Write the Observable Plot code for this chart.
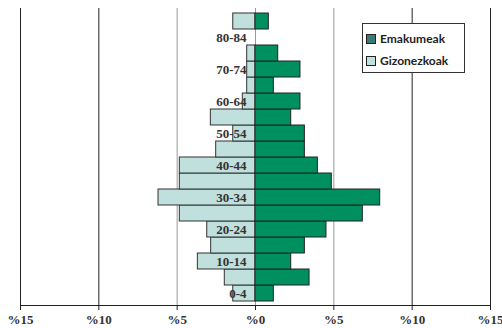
<!DOCTYPE html>
<html>
<head>
<meta charset="utf-8">
<script src="https://cdn.jsdelivr.net/npm/d3@7"></script>
<script src="https://cdn.jsdelivr.net/npm/@observablehq/plot@0.6"></script>
<style>
  html, body { margin: 0; padding: 0; background: #fff; }
  #wrap { position: relative; width: 502px; height: 328px; }
  #legend {
    position: absolute; left: 362px; top: 23px; width: 101px; height: 48px;
    background: #fff; border: 1px solid #333;
    font: bold 12px "Lato", "Open Sans", sans-serif; color: #222;
  }
  #legend .row { position: absolute; left: 3px; display: flex; align-items: center; }
  #legend .sw { width: 8px; height: 8px; border: 1px solid #222; margin-right: 4px; }
</style>
</head>
<body>
<div id="wrap"></div>
<script>
const ageGroups = ["0-4","5-9","10-14","15-19","20-24","25-29","30-34","35-39","40-44","45-49","50-54","55-59","60-64","65-69","70-74","75-79","80-84","85+"];
const gizonezkoak = [1.42,1.96,3.68,2.83,3.08,4.83,6.19,4.83,4.83,2.51,1.42,2.85,0.81,0.53,0.53,0.53,0,1.42];
const emakumeak   = [1.17,3.45,2.28,3.15,4.53,6.85,7.96,4.87,3.98,3.15,3.15,2.28,2.87,1.17,2.87,1.45,0,0.85];
const shownLabels = ["0-4","10-14","20-24","30-34","40-44","50-54","60-64","70-74","80-84"];
const xTicks = [-15,-10,-5,0,5,10,15];
const seriesNames = ["Emakumeak","Gizonezkoak"];
const colorWomen = "#009060";
const colorMen = "#bfe0dc";
const legendWomen = "#3a7a78";

const men = ageGroups.map((a,i) => ({age:a, v:gizonezkoak[i]}));
const women = ageGroups.map((a,i) => ({age:a, v:emakumeak[i]}));
const labels = shownLabels.map(a => ({age:a}));

const chart = Plot.plot({
  width: 502,
  height: 328,
  marginLeft: 20,
  marginRight: 12,
  marginTop: 8,
  marginBottom: 23,
  style: {background: "#fff"},
  x: {domain: [-15, 15], ticks: xTicks, tickFormat: d => "%" + Math.abs(d), label: null},
  y: {domain: ageGroups.slice().reverse(), padding: 0, axis: null, label: null},
  marks: [
    Plot.ruleX(xTicks.filter(d => Math.abs(d) >= 10), {stroke: "#222", strokeWidth: 1}),
    Plot.ruleX(xTicks.filter(d => Math.abs(d) < 10), {stroke: "#999", strokeWidth: 1}),
    Plot.barX(men, {y: "age", x1: d => -d.v, x2: 0, fill: colorMen, stroke: d => d.v > 0 ? "#333" : "none", strokeWidth: 1}),
    Plot.barX(women, {y: "age", x1: 0, x2: "v", fill: colorWomen, stroke: d => d.v > 0 ? "#222" : "none", strokeWidth: 1}),
    Plot.text(labels, {y: "age", x: 0, dx: -9, text: "age", textAnchor: "end", fontWeight: "bold", fontSize: 13, fontFamily: "Liberation Serif", fill: "#333"}),
    Plot.frame({anchor: "bottom", stroke: "#222"}),
    Plot.axisX({ticks: xTicks, tickSize: 5, tickPadding: 4, fontSize: 13, fontWeight: "bold", fontFamily: "Liberation Serif", fill: "#333", stroke: "#222", label: null, tickFormat: d => "%" + Math.abs(d)})
  ]
});
document.getElementById("wrap").appendChild(chart);

const legend = document.createElement("div");
legend.id = "legend";
legend.innerHTML =
  `<div class="row" style="top:7px"><span class="sw" style="background:${legendWomen}"></span>${seriesNames[0]}</div>` +
  `<div class="row" style="top:29px"><span class="sw" style="background:${colorMen}"></span>${seriesNames[1]}</div>`;
document.getElementById("wrap").appendChild(legend);
</script>
</body>
</html>
